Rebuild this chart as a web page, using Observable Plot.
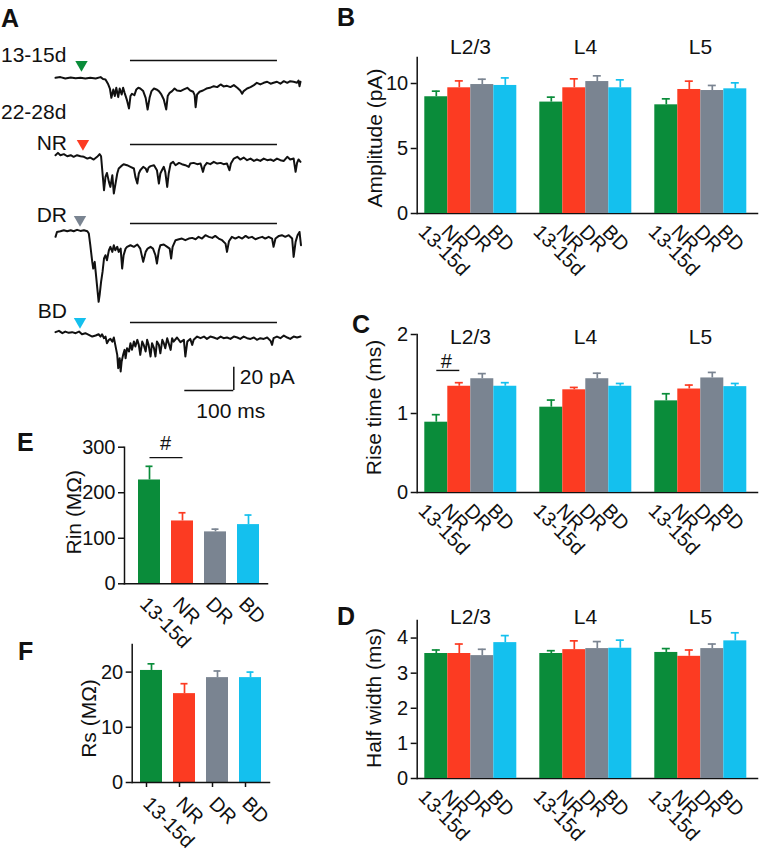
<!DOCTYPE html>
<html><head><meta charset="utf-8">
<script src="https://cdn.jsdelivr.net/npm/d3@7"></script>
<script src="https://cdn.jsdelivr.net/npm/@observablehq/plot@0.6"></script>
<style>
body{margin:0;background:#fff;}
#fig{position:relative;width:767px;height:853px;overflow:hidden;background:#fff;font-family:"Liberation Sans",Arial,Helvetica,sans-serif;}
#fig svg{position:absolute;overflow:visible;background:transparent;}
</style></head><body><div id="fig"></div>
<script>
// ---------- categories ----------
const groups = ["13-15d", "NR", "DR", "BD"];
const groupColors = ["#0a8c3a", "#fc3b22", "#7a8491", "#14c0ee"];
const layers = ["L2/3", "L4", "L5"];

// ---------- panel B: amplitude (pA), mean and SEM per layer x group ----------
const ampMean = [[8.98, 9.67, 9.92, 9.85], [8.57, 9.67, 10.15, 9.67], [8.36, 9.54, 9.46, 9.59]];
const ampSem  = [[0.43, 0.53, 0.41, 0.58], [0.38, 0.69, 0.44, 0.61], [0.46, 0.64, 0.39, 0.46]];
// ---------- panel C: rise time (ms) ----------
const riseMean = [[0.89, 1.345, 1.44, 1.345], [1.08, 1.30, 1.44, 1.345], [1.16, 1.31, 1.45, 1.34]];
const riseSem  = [[0.095, 0.045, 0.065, 0.045], [0.09, 0.03, 0.07, 0.035], [0.09, 0.05, 0.07, 0.04]];
// ---------- panel D: half width (ms) ----------
const halfMean = [[3.56, 3.56, 3.50, 3.87], [3.56, 3.67, 3.70, 3.71], [3.59, 3.48, 3.70, 3.92]];
const halfSem  = [[0.10, 0.27, 0.18, 0.20], [0.08, 0.25, 0.20, 0.23], [0.11, 0.18, 0.13, 0.23]];
// ---------- panel E: Rin (MΩ) ----------
const rinMean = [228, 138, 114, 130];
const rinSem  = [30, 18, 6, 21];
// ---------- panel F: Rs (MΩ) ----------
const rsMean = [20.3, 16.1, 19.0, 19.0];
const rsSem  = [1.2, 1.8, 1.2, 1.0];

// ---------- tick values ----------
const ampTicks = [0, 5, 10];
const riseTicks = [0, 1, 2];
const halfTicks = [0, 1, 2, 3, 4];
const rinTicks = [0, 100, 200, 300];
const rsTicks = [0, 10, 20];

// ---------- significance marks ----------
const riseSig = [{layer: "L2/3", from: "13-15d", to: "NR", y: 1.545, ty: 1.66, label: "#"}];
const rinSig = [{from: "13-15d", to: "NR", y: 277, ty: 308, label: "#"}];

// ---------- panel A: example traces (time in ms, current in pA) ----------
const traceNames = ["13-15d", "NR", "DR", "BD"];
const ageLabel = "22-28d";
const stimWindow = [153, 453];       // ms, horizontal bar
const cueTimes = [53, 56, 50, 50];   // ms, arrowheads
const scaleBarMs = 100;
const scaleBarPA = 20;

const t1 = [0,10,20,31,41,51,61,71,82,92,97,102,107,111,114,118,121,124,128,131,135,138,141,146,150,153,156,161,165,169,173,179,184,188,192,196,201,206,211,216,221,226,229,233,238,243,248,255,262,269,275,281,284,286,289,294,301,308,315,323,330,337,343,350,357,364,371,377,381,384,391,398,405,411,418,425,432,439,445,452,459,466,473,479,486,493,496,498,500];
const i1 = [0,0.6,-0.6,0.3,-0.3,0,-0.6,0,-0.6,0.6,-1.1,-1.4,-5.1,-9.2,-17.2,-10,-15.7,-8.6,-16.6,-9.2,-14.3,-8.6,-12.9,-19.4,-26.3,-15.7,-13.7,-14.9,-10,-8.6,-9.2,-11.4,-17.2,-27.2,-17.2,-11.4,-9.2,-10,-11.4,-14.3,-18.6,-27.2,-15.7,-12.9,-11.4,-9.2,-10.9,-11.4,-10,-8.6,-10.9,-12,-14.9,-25.2,-14.3,-12,-10.9,-9.2,-8.6,-7.2,-8,-5.7,-7.4,-6.9,-8,-6.3,-8.6,-10.9,-13.7,-11.4,-9.2,-8,-6.3,-4.3,-5.7,-4.3,-3.4,-5.1,-4.3,-3.4,-5.1,-2.9,-4.3,-2.9,-3.4,-4.3,-2.3,-7.2,-3.4];

const t2 = [0,5,10,17,24,31,37,44,51,58,65,71,78,85,90,93,96,99,102,105,109,112,116,119,122,126,129,134,139,146,153,160,163,167,170,173,179,184,187,190,194,201,207,211,214,218,221,224,228,231,235,240,245,252,258,265,272,275,282,289,296,301,304,309,316,323,330,337,343,350,355,358,364,371,377,384,391,398,405,411,418,425,432,439,445,452,459,466,473,479,486,490,493,496,500];
const i2 = [0,2,0,0.9,-0.9,0,-1.4,0,-0.9,-1.4,-2.9,-2,-3.7,-1.4,0.9,-0.9,-15.7,-30,-18.6,-15.2,-22.9,-27.2,-17.2,-32.9,-25.7,-15.7,-11.4,-9.4,-7.7,-8.6,-10,-11.4,-18.6,-24.3,-15.7,-12.9,-10,-11.4,-14.3,-10.6,-9.4,-8.6,-12.9,-24.3,-15.7,-12.3,-10,-14.3,-27.2,-15.7,-7.2,-5.7,-8.6,-6.6,-7.7,-8.6,-10,-7.2,-6.6,-7.7,-7.2,-14.3,-9.4,-6.6,-7.7,-5.7,-7.2,-6.6,-7.7,-7.2,-12.9,-7.2,-2.9,-1.4,-3.7,-2,-4.3,-2.9,-4.9,-3.7,-4.9,-2.9,-4.3,-3.7,-4.9,-2.9,-4.3,-4.9,-1.4,-3.7,-2.9,-14.3,-6.6,-3.7,-5.7];

const t3 = [0,3,10,17,24,31,37,44,51,58,65,68,71,75,77,80,82,85,88,90,93,96,99,102,105,109,112,116,119,122,126,129,133,136,139,143,146,153,160,167,173,179,184,188,194,199,204,207,211,214,221,228,233,236,239,245,252,258,265,272,279,286,292,299,306,313,320,326,333,340,347,350,354,360,367,374,381,388,394,401,408,415,422,428,435,442,445,449,456,462,469,476,483,486,490,494,498,501];
const i3 = [-5.1,-0.9,-0.3,0.6,-0.3,0.6,-0.3,0.9,0,0.6,-0.3,-2.3,-12.3,-26.6,-32.3,-26.6,-35.2,-48,-60.9,-55.2,-43.8,-35.2,-23.7,-20.9,-25.2,-16.6,-13.7,-18,-12.3,-16.6,-13.7,-18,-15.2,-32.3,-20.9,-15.2,-13.7,-12.3,-13.7,-11.7,-15.2,-26.6,-18,-15.2,-13.7,-15.2,-20.9,-28,-16.6,-12.3,-11.7,-13.7,-15.2,-23.7,-13.7,-8,-7.2,-6.6,-8,-6.6,-6,-7.2,-5.1,-6.6,-3.7,-5.1,-6,-4.3,-6.6,-8,-10.9,-18,-8.9,-5.1,-6.6,-5.1,-6.6,-4.3,-6,-5.1,-7.2,-6,-5.1,-6.6,-5.1,-6.6,-13.7,-6.6,-4.3,-3.7,-5.1,-3.7,-6.6,-22.3,-9.4,-3.7,-0.9,-12.3];

const t4 = [0,7,14,20,27,34,41,48,54,61,68,75,82,88,92,95,99,102,105,109,112,116,119,122,126,128,131,133,135,138,141,143,146,150,153,156,160,163,167,170,173,177,180,184,187,190,194,197,201,204,207,211,214,218,221,224,228,231,235,238,241,248,255,262,265,269,275,279,282,289,296,303,309,316,323,330,337,343,350,357,364,371,377,384,391,398,405,411,418,425,432,439,442,445,452,459,466,473,479,486,493,500];
const i4 = [0.9,2,0,1.4,0.3,0.9,0,1.4,-0.9,0,-1.4,-2.9,-2,-0.9,-2.9,-0.9,-4.3,-2.9,-8.6,-5.7,-4.9,-7.2,-3.7,-10,-18.6,-30,-21.5,-32.9,-24.3,-18.6,-14.3,-21.5,-12.9,-15.7,-8.6,-14.3,-7.2,-11.4,-5.7,-10,-18.6,-7.2,-10,-15.7,-5.7,-10,-20,-8.6,-12.9,-20,-7.2,-10,-17.2,-5.7,-8.6,-12.9,-4.3,-8.6,-14.3,-4.3,-7.2,-3.7,-7.7,-5.7,-20,-7.2,-4.9,-10,-5.7,-2.9,-4.3,-2.9,-4.9,-2.9,-3.7,-4.9,-2.9,-4.3,-3.7,-4.9,-2.9,-3.7,-4.9,-2.9,-4.3,-4.9,-3.7,-5.7,-4.3,-4.9,-3.7,-6.6,-10,-4.3,-2.9,-4.3,-2,-3.7,-4.9,-2.9,-3.7,-2.9];

const traceT = [t1, t2, t3, t4];
const traceI = [i1, i2, i3, i4];

// ---------- layout ----------
const fig = document.getElementById("fig");
const FONT = '"Liberation Sans", Arial, Helvetica, sans-serif';
const AX = 1.5;        // axis stroke width
const TICKFS = 20;     // tick label size
const TITLEFS = 21;    // titles
const INK = "#111";

function place(svg, left, top) {
  svg.style.left = left + "px";
  svg.style.top = top + "px";
  fig.appendChild(svg);
}

// ----- Panel A traces -----
const pxPerPA = 23.3 / 20;
const traceLayout = [
  {baseY: 77.3, barY: 60, triDy: 4},
  {baseY: 155, barY: 144.3, triDy: -1},
  {baseY: 230.7, barY: 223.3, triDy: -4},
  {baseY: 333, barY: 322.3, triDy: -1}
];
traceNames.forEach((name, k) => {
  const L = traceLayout[k];
  const data = traceT[k].map((t, j) => ({t, i: traceI[k][j]}));
  const yTop = (L.baseY - L.barY) / pxPerPA;
  const yBottom = d3.min(traceI[k]) - 4;
  const mt = 10, mb = 5;
  const h = mt + mb + (yTop - yBottom) * pxPerPA;
  const svg = Plot.plot({
    width: 320, height: h, marginLeft: 55, marginRight: 20, marginTop: mt, marginBottom: mb,
    style: {fontFamily: FONT, background: "transparent", overflow: "visible"},
    x: {domain: [0, 500], axis: null},
    y: {domain: [yBottom, yTop], axis: null},
    marks: [
      Plot.ruleY([yTop], {x1: stimWindow[0], x2: stimWindow[1], stroke: INK, strokeWidth: 1.6}),
      Plot.dot([cueTimes[k]], {x: d => d, y: yTop, dy: L.triDy, symbol: "triangle", r: 4.6, rotate: 180, fill: groupColors[k], stroke: null}),
      Plot.line(data, {x: "t", y: "i", stroke: INK, strokeWidth: 2, strokeLinejoin: "round"})
    ]
  });
  place(svg, 0, L.barY - mt);
});

// scale bar
{
  const svg = Plot.plot({
    width: 120, height: 70, marginLeft: 4.3, marginRight: 66.7, marginTop: 6.7, marginBottom: 40,
    style: {fontFamily: FONT, background: "transparent", overflow: "visible"},
    x: {domain: [0, scaleBarMs], axis: null},
    y: {domain: [0, scaleBarPA], axis: null},
    marks: [
      Plot.ruleY([0], {x1: 0, x2: scaleBarMs, stroke: INK, strokeWidth: 1.5}),
      Plot.ruleX([scaleBarMs], {y1: 0, y2: scaleBarPA, stroke: INK, strokeWidth: 1.5}),
      Plot.text([`${scaleBarPA} pA`], {x: scaleBarMs, y: scaleBarPA / 2, text: d => d, textAnchor: "start", dx: 6, dy: -2, fontSize: TITLEFS, fill: INK}),
      Plot.text([`${scaleBarMs} ms`], {x: scaleBarMs, y: 0, text: d => d, dx: -3, dy: 21, fontSize: TITLEFS, fill: INK})
    ]
  });
  place(svg, 180, 360);
}

// y-axis marks shared by all bar panels
function yAxisMarks(cfg) {
  return [
    Plot.axisY(cfg.ticks, {tickSize: 6, tickPadding: 3, fontSize: TICKFS, tickFormat: d3.format("~f"), label: null, strokeWidth: AX}),
    Plot.text([cfg.label], {text: d => d, frameAnchor: "left", textAnchor: "middle", lineAnchor: "middle", rotate: -90, dx: cfg.labelDx, dy: cfg.labelDy, fontSize: TITLEFS, fill: INK}),
    Plot.frame({anchor: "left", strokeWidth: AX}),
    Plot.frame({anchor: "bottom", strokeWidth: AX})
  ];
}

// ----- layered bar panels (B, C, D) -----
function layerPanel(cfg) {
  const rows = [];
  layers.forEach((L, li) => groups.forEach((g, gi) => rows.push({layer: L, group: g, mean: cfg.mean[li][gi], sem: cfg.sem[li][gi]})));
  const mt = cfg.plotTop - cfg.top;
  const mb = cfg.top + cfg.height - cfg.baseline;
  const common = {width: cfg.width, height: cfg.height, marginTop: mt, marginBottom: mb,
    style: {fontFamily: FONT, background: "transparent", overflow: "visible", color: INK}};
  const axes = Plot.plot({
    ...common,
    marginLeft: cfg.axisLeft - cfg.left, marginRight: cfg.left + cfg.width - cfg.axisRight,
    y: {domain: cfg.domain},
    marks: yAxisMarks(cfg)
  });
  place(axes, cfg.left, cfg.top);
  const marks = [
    Plot.barY(rows, {fx: "layer", x: "group", y: "mean", fill: "group"}),
    Plot.ruleX(rows, {fx: "layer", x: "group", y1: "mean", y2: d => d.mean + d.sem, stroke: "group", strokeWidth: 1.7}),
    Plot.tickY(rows, {fx: "layer", x: "group", y: d => d.mean + d.sem, stroke: "group", strokeWidth: 1.7, insetLeft: 7.5, insetRight: 7.5}),
    Plot.axisX({tickRotate: 45, tickSize: 0, tickPadding: 15, dx: -14.5, fontSize: TICKFS, label: null}),
    Plot.axisFx({anchor: "top", tickSize: 0, tickPadding: cfg.titlePad, fontSize: TITLEFS, label: null, dy: cfg.titleDy})
  ];
  if (cfg.sig) {
    marks.push(Plot.link(cfg.sig, {fx: "layer", x1: "from", x2: "to", y1: "y", y2: "y", stroke: INK, strokeWidth: 1.4}));
    marks.push(Plot.text(cfg.sig, {fx: "layer", x: "from", y: "ty", text: "label", dx: 10, fontSize: TICKFS, fill: INK}));
  }
  const bars = Plot.plot({
    ...common,
    marginLeft: cfg.barLeft - cfg.left, marginRight: cfg.left + cfg.width - cfg.barRight,
    fx: {domain: layers, paddingInner: 0.2, paddingOuter: 0},
    x: {domain: groups, padding: 0},
    y: {domain: cfg.domain, axis: null},
    color: {domain: groups, range: groupColors},
    marks
  });
  place(bars, cfg.left, cfg.top);
}

layerPanel({left: 320, top: 0, width: 447, height: 280, axisLeft: 416.7, axisRight: 757, barLeft: 422.7, barRight: 746.7,
  plotTop: 57, baseline: 213, domain: [0, 12], ticks: ampTicks, label: "Amplitude (pA)", labelDx: -41.7, labelDy: 2.5,
  mean: ampMean, sem: ampSem, titlePad: 4, titleDy: 0});
layerPanel({left: 320, top: 280, width: 447, height: 260, axisLeft: 416.7, axisRight: 757, barLeft: 422.7, barRight: 746.7,
  plotTop: 334, baseline: 492, domain: [0, 2], ticks: riseTicks, label: "Rise time (ms)", labelDx: -42.7, labelDy: -6,
  mean: riseMean, sem: riseSem, titlePad: 4, titleDy: 13, sig: riseSig});
layerPanel({left: 320, top: 540, width: 447, height: 313, axisLeft: 416.7, axisRight: 757, barLeft: 422.7, barRight: 746.7,
  plotTop: 620, baseline: 778, domain: [0, 4.5], ticks: halfTicks, label: "Half width (ms)", labelDx: -42.7, labelDy: -1.5,
  mean: halfMean, sem: halfSem, titlePad: 4, titleDy: 7});

// ----- simple bar panels (E, F) -----
function simplePanel(cfg) {
  const rows = groups.map((g, i) => ({group: g, mean: cfg.mean[i], sem: cfg.sem[i]}));
  const mt = cfg.plotTop - cfg.top;
  const mb = cfg.top + cfg.height - cfg.baseline;
  const marks = [
    Plot.barY(rows, {x: "group", y: "mean", fill: "group"}),
    Plot.ruleX(rows, {x: "group", y1: "mean", y2: d => d.mean + d.sem, stroke: "group", strokeWidth: 1.7}),
    Plot.tickY(rows, {x: "group", y: d => d.mean + d.sem, stroke: "group", strokeWidth: 1.7, insetLeft: 7.5, insetRight: 7.5}),
    ...yAxisMarks(cfg),
    Plot.axisX({tickRotate: 45, tickSize: cfg.xTick, tickPadding: cfg.xPad, dx: cfg.xDx, fontSize: TICKFS, label: null, strokeWidth: AX})
  ];
  if (cfg.sig) {
    marks.push(Plot.link(cfg.sig, {x1: "from", x2: "to", y1: "y", y2: "y", stroke: INK, strokeWidth: 1.4}));
    marks.push(Plot.text(cfg.sig, {x: "from", y: "ty", text: "label", dx: 16, fontSize: TICKFS, fill: INK}));
  }
  const svg = Plot.plot({
    width: cfg.width, height: cfg.height, marginTop: mt, marginBottom: mb,
    marginLeft: cfg.axisLeft - cfg.left, marginRight: cfg.left + cfg.width - cfg.axisRight,
    style: {fontFamily: FONT, background: "transparent", overflow: "visible", color: INK},
    x: {domain: groups, paddingInner: 0.33, paddingOuter: 0.166, insetLeft: cfg.insetLeft, insetRight: cfg.insetRight},
    y: {domain: cfg.domain},
    color: {domain: groups, range: groupColors},
    marks
  });
  place(svg, cfg.left, cfg.top);
}

simplePanel({left: 0, top: 410, width: 320, height: 220, axisLeft: 124, axisRight: 267, insetLeft: 7, insetRight: 0,
  plotTop: 446.7, baseline: 583.3, domain: [0, 300], ticks: rinTicks, label: "Rin (MΩ)", labelDx: -50, labelDy: -3.3,
  mean: rinMean, sem: rinSem, xTick: 0, xPad: 17, xDx: -6.3, sig: rinSig});
simplePanel({left: 0, top: 630, width: 320, height: 223, axisLeft: 131.7, axisRight: 269, insetLeft: 1, insetRight: 0.3,
  plotTop: 644, baseline: 782, domain: [0, 25], ticks: rsTicks, label: "Rs (MΩ)", labelDx: -43.2, labelDy: 5,
  mean: rsMean, sem: rsSem, xTick: 5, xPad: 13, xDx: -5});

// ----- static labels (panel letters, trace names) -----
const NS = "http://www.w3.org/2000/svg";
const overlay = document.createElementNS(NS, "svg");
overlay.setAttribute("width", 767);
overlay.setAttribute("height", 853);
overlay.style.left = "0px"; overlay.style.top = "0px";
overlay.style.pointerEvents = "none";
function addText(str, x, y, size, weight, anchor) {
  const t = document.createElementNS(NS, "text");
  t.setAttribute("x", x); t.setAttribute("y", y);
  t.setAttribute("font-size", size);
  t.setAttribute("font-family", FONT);
  t.setAttribute("font-weight", weight || "normal");
  t.setAttribute("text-anchor", anchor || "start");
  t.setAttribute("fill", INK);
  t.textContent = str;
  overlay.appendChild(t);
}
addText("A", 1, 26.7, 25, "bold");
addText("B", 337, 26, 25, "bold");
addText("C", 352, 333, 25, "bold");
addText("D", 337, 625, 25, "bold");
addText("E", 17, 450.7, 25, "bold");
addText("F", 18, 660, 25, "bold");
addText(traceNames[0], 1, 61.6, TITLEFS);
addText(ageLabel, 1, 119.2, TITLEFS);
addText(traceNames[1], 67, 150, TITLEFS, "normal", "end");
addText(traceNames[2], 67, 221.7, TITLEFS, "normal", "end");
addText(traceNames[3], 67, 318.3, TITLEFS, "normal", "end");
fig.appendChild(overlay);
</script>
</body></html>
